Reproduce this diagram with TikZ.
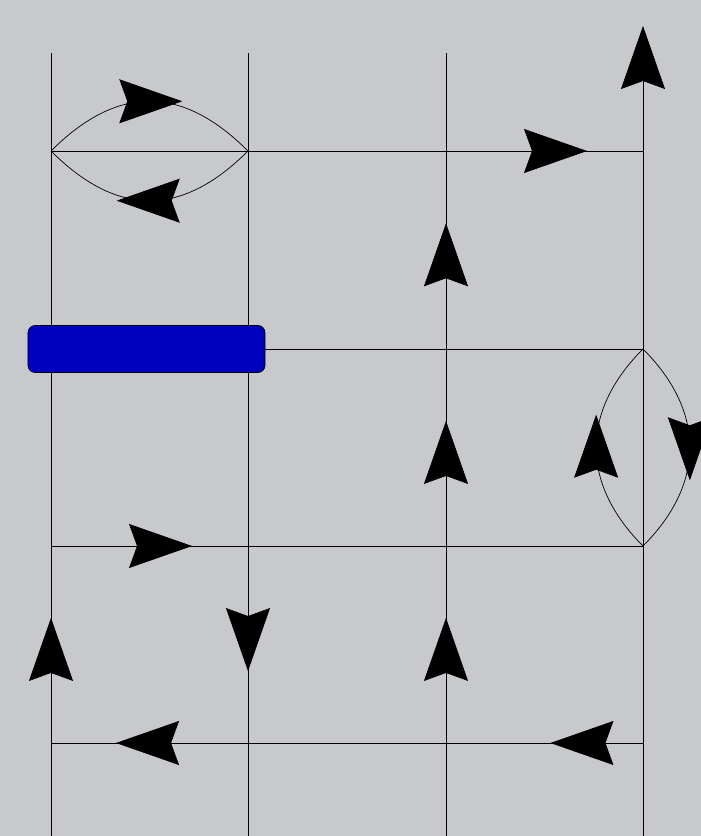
\documentclass[tikz,border=0pt]{standalone}
\usetikzlibrary{arrows.meta, decorations.markings}
\definecolor{canvas}{RGB}{200,201,204}
\definecolor{barblue}{RGB}{0,0,192}

\begin{document}
\begin{tikzpicture}[x=0.025cm, y=0.025cm,
    >={Stealth[length=1.575cm, width=1.1cm, inset=0.2cm]}]
    \tikzset{
      wire/.style={draw=black, line width=0.5pt},
      flowat/.style={postaction={decorate, black,
        decoration={markings, mark=at position #1 with {\arrow{>}}}}},
      lensflow/.style={postaction={decorate, black,
        decoration={markings, mark=at position 0.5 with {\pgftransformxshift{0.82cm}\arrow{>}}}}},
      barbox/.style={
        rectangle, rounded corners=0.18cm,
        draw=black, line width=0.5pt, fill=barblue,
        minimum width=5.925cm, minimum height=1.175cm, inner sep=0pt
      }
    }

    \useasboundingbox (0,0) rectangle (701,836);
    \clip (0,0) rectangle (701,836);
    \fill[canvas] (0,0) rectangle (701,836);

    % grid points
    \foreach \c/\x in {a/51, b/248, c/446, d/643} {
      \foreach \r/\y in {1/685, 2/487, 3/290, 4/93} {
        \coordinate (\c\r) at (\x,\y);
      }
      \coordinate (\c top) at (\x,783);
      \coordinate (\c bot) at (\x,0);
    }
    \coordinate (dtip) at (643,810);

    % vertical wires
    \draw[wire] (abot) -- (atop);
    \draw[wire] (btop) -- (bbot);
    \draw[wire] (cbot) -- (ctop);
    \draw[wire, ->] (dbot) -- (dtip);

    % the bar
    \node[barbox] (bar) at (146.5,487) {};

    % horizontal wires
    \draw[wire] (a1) -- (d1);
    \draw[wire] (bar.east) -- (d2);
    \draw[wire] (a3) -- (d3);
    \draw[wire] (d4) -- (a4);

    % lenses
    \draw[wire, lensflow] (a1) to[out=45, in=135, looseness=1.22] (b1);
    \draw[wire, lensflow] (b1) to[out=-135, in=-45, looseness=1.22] (a1);
    \draw[wire, lensflow] (d3) to[out=135, in=-135, looseness=1.15] (d2);
    \draw[wire, lensflow] (d2) to[out=-45, in=45, looseness=1.15] (d3);

    % flow marks
    \path[flowat=0.635] (a4) -- (a3);
    \path[flowat=0.635] (b3) -- (b4);
    \foreach \s/\t in {c4/c3, c3/c2, c2/c1}
      \path[flowat=0.635] (\s) -- (\t);
    \path[flowat=0.716] (c1) -- (d1);
    \path[flowat=0.716] (a3) -- (b3);
    \path[flowat=0.67] (b4) -- (a4);
    \path[flowat=0.47] (d4) -- (c4);
  \end{tikzpicture}
\end{document}
